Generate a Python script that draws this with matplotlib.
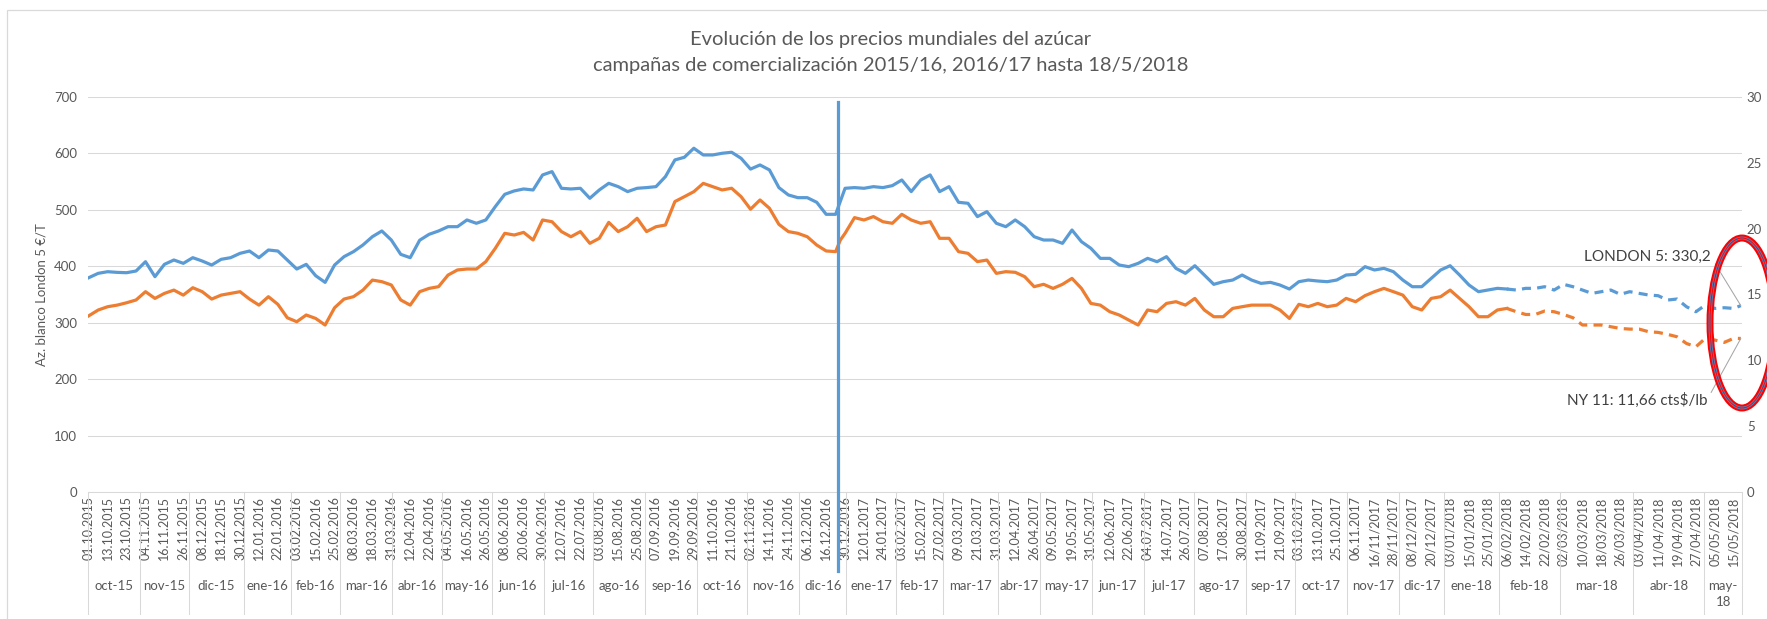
import matplotlib
matplotlib.use("Agg")
import matplotlib.pyplot as plt
import matplotlib.transforms as mtransforms
from matplotlib.patches import Ellipse, Rectangle

plt.rcParams['font.family'] = ['Lato', 'DejaVu Sans']
plt.rcParams['lines.scale_dashes'] = False

# ---------------- data ----------------
title_line1 = "Evolución de los precios mundiales del azúcar"
title_line2 = "campañas de comercialización 2015/16, 2016/17 hasta 18/5/2018"
y_label = "Az. blanco London 5 €/T"

n_categories = 700          # one category per quoted day (calendar days from 06/02/2018)
label_step = 8
date_labels = [
    "01.10.2015", "13.10.2015", "23.10.2015", "04.11.2015", "16.11.2015", "26.11.2015",
    "08.12.2015", "18.12.2015", "30.12.2015",
    "12.01.2016", "22.01.2016", "03.02.2016", "15.02.2016", "25.02.2016", "08.03.2016",
    "18.03.2016", "31.03.2016", "12.04.2016", "22.04.2016", "04.05.2016", "16.05.2016",
    "26.05.2016", "08.06.2016", "20.06.2016", "30.06.2016", "12.07.2016", "22.07.2016",
    "03.08.2016", "15.08.2016", "25.08.2016", "07.09.2016", "19.09.2016", "29.09.2016",
    "11.10.2016", "21.10.2016", "02.11.2016", "14.11.2016", "24.11.2016", "06.12.2016",
    "16.12.2016", "30.12.2016",
    "12.01.2017", "24.01.2017", "03.02.2017", "15.02.2017", "27.02.2017", "09.03.2017",
    "21.03.2017", "31.03.2017", "12.04.2017", "26.04.2017", "09.05.2017", "19.05.2017",
    "31.05.2017", "12.06.2017", "22.06.2017", "04.07.2017", "14.07.2017", "26.07.2017",
    "07.08.2017", "17.08.2017", "30.08.2017", "11.09.2017", "21.09.2017", "03.10.2017",
    "13.10.2017", "25.10.2017", "06.11.2017", "16/11/2017", "28/11/2017", "08/12/2017",
    "20/12/2017",
    "03/01/2018", "15/01/2018", "25/01/2018", "06/02/2018", "14/02/2018", "22/02/2018",
    "02/03/2018", "10/03/2018", "18/03/2018", "26/03/2018", "03/04/2018", "11/04/2018",
    "19/04/2018", "27/04/2018", "05/05/2018", "15/05/2018",
]
month_labels = [
    "oct-15", "nov-15", "dic-15",
    "ene-16", "feb-16", "mar-16", "abr-16", "may-16", "jun-16", "jul-16", "ago-16",
    "sep-16", "oct-16", "nov-16", "dic-16",
    "ene-17", "feb-17", "mar-17", "abr-17", "may-17", "jun-17", "jul-17", "ago-17",
    "sep-17", "oct-17", "nov-17", "dic-17",
    "ene-18", "feb-18", "mar-18", "abr-18", "may-\n18",
]
month_starts = [0, 22, 43, 66, 86, 107, 129, 150, 171, 193, 214, 236, 258, 279, 301,
                321, 342, 362, 385, 403, 425, 447, 468, 490, 511, 533, 555,
                574, 597, 623, 654, 684, 700]

# category index of each read sample
sample_idx = list(range(0, 320, 4)) + [318] + list(range(320, 700, 4)) + [699]

# London 5 white sugar, EUR/t (left axis)
london5 = [
    379.7, 387.4, 390.3, 389.1, 388.5, 391.5, 408.0, 381.5, 403.3, 411.0,
    405.1, 415.1, 409.2, 402.1, 412.2, 415.1, 422.8, 426.9, 415.1, 428.7,
    426.9, 411.0, 395.0, 403.3, 383.2, 371.4, 402.1, 416.9, 425.8, 437.6,
    452.3, 462.4, 446.4, 421.0, 415.1, 446.0,
    456.5, 462.4, 470.0, 470.0, 481.9, 476.0, 481.9, 505.5, 527.3, 533.3,
    536.8, 535.0, 561.6, 567.5, 538.0, 536.8, 538.0, 520.3, 535.0, 546.8,
    540.9, 532.1, 538.0, 539.2, 540.9, 558.7, 588.2, 592.9, 608.9, 597.0,
    597.0, 600.0, 601.8, 591.1, 572.0, 579.3, 570.5, 539.2, 526.2, 521.4,
    521.4, 513.2, 491.9, 491.9,
    515.0,
    538.0, 539.2, 538.0, 540.9, 539.2, 542.7, 552.7, 532.1, 552.7, 561.6,
    532.1, 540.9, 513.2, 511.4, 487.8, 496.6, 476.0, 470.0, 481.9, 470.0,
    452.3, 446.4, 446.4, 440.5, 464.1, 443.5,
    431.7, 413.9, 413.9, 402.1, 399.2, 405.1, 413.9, 408.0, 416.9, 396.2,
    387.4, 400.9, 384.4, 367.9, 372.6, 375.5, 384.4, 375.5, 369.6, 371.4,
    366.7, 359.6, 372.6, 375.5, 373.8, 372.6, 375.5, 384.4, 385.6, 399.2,
    393.3, 396.2, 390.3, 375.5, 363.7, 363.7,
    378.5, 393.3, 400.9, 384.4, 366.7, 354.9, 357.8, 360.8, 359.6, 357.8,
    360.8, 360.8, 363.7, 357.8, 367.9, 363.7, 357.8, 351.9, 354.9, 357.8,
    350.2, 354.9, 351.9, 349.0, 347.8, 340.1, 341.9, 328.3, 319.4, 331.2,
    325.3, 326.5, 325.3,
    330.2,
]

# NY 11 raw sugar, cts$/lb (right axis)
ny11 = [
    13.38, 13.82, 14.07, 14.19, 14.37, 14.58, 15.21, 14.70, 15.08, 15.33,
    14.95, 15.51, 15.21, 14.65, 14.95, 15.08, 15.21, 14.65, 14.19, 14.83,
    14.25, 13.23, 12.93, 13.44, 13.18, 12.68, 13.99, 14.65, 14.83, 15.33,
    16.09, 15.97, 15.72, 14.58, 14.19, 15.21,
    15.46, 15.59, 16.47, 16.86, 16.93, 16.93, 17.49, 18.50, 19.64, 19.51,
    19.71, 19.13, 20.65, 20.52, 19.77, 19.38, 19.77, 18.88, 19.26, 20.47,
    19.77, 20.14, 20.78, 19.77, 20.14, 20.27, 22.05, 22.42, 22.80, 23.43,
    23.18, 22.93, 23.06, 22.42, 21.47, 22.17, 21.54, 20.32, 19.77, 19.64,
    19.38, 18.75, 18.30, 18.25,
    19.13,
    19.64, 20.83, 20.65, 20.91, 20.52, 20.40, 21.08, 20.65, 20.40, 20.52,
    19.26, 19.26, 18.25, 18.12, 17.49, 17.61, 16.60, 16.73, 16.68, 16.35,
    15.59, 15.77, 15.46, 15.77, 16.22, 15.46,
    14.32, 14.19, 13.69, 13.44, 13.06, 12.68, 13.82, 13.69, 14.32, 14.45,
    14.19, 14.70, 13.82, 13.31, 13.31, 13.94, 14.07, 14.19, 14.19, 14.19,
    13.82, 13.18, 14.25, 14.07, 14.32, 14.07, 14.19, 14.70, 14.45, 14.91,
    15.21, 15.46, 15.21, 14.95, 14.07, 13.82,
    14.70, 14.83, 15.33, 14.70, 14.07, 13.31, 13.31, 13.82, 13.94, 13.69,
    13.48, 13.48, 13.74, 13.69, 13.48, 13.23, 12.68, 12.68, 12.68, 12.55,
    12.42, 12.37, 12.37, 12.17, 12.12, 11.97, 11.79, 11.28, 11.03, 11.67,
    11.54, 11.36, 11.67,
    11.66,
]

calendar_from = 600          # from 06/02/2018 the series has weekend gaps (dashed look)
spike_idx = 317
spike_values = [690, -140]

london_label = "LONDON 5: 330,2"
ny_label = "NY 11: 11,66 cts$/lb"

# ---------------- style ----------------
BLUE = "#5B9BD5"
ORANGE = "#ED7D31"
GRID = "#D9D9D9"
TXT = "#595959"
LW = 2.3

W, H = 1767, 619
fig = plt.figure(figsize=(W / 100, H / 100), dpi=100)
L, R, T, B = 87.6, 1742.0, 96.8, 492.1
ax = fig.add_axes([L / W, (H - B) / H, (R - L) / W, (B - T) / H])
ax2 = ax.twinx()

ax.set_xlim(-0.5, n_categories - 0.5)
ax.set_ylim(0, 700)
ax2.set_ylim(0, 30)

for a in (ax, ax2):
    for s in a.spines.values():
        s.set_visible(False)
ax.spines['bottom'].set_visible(True)
ax.spines['bottom'].set_color(GRID)
ax.spines['bottom'].set_linewidth(0.75)

ax.set_yticks(range(0, 701, 100))
ax.tick_params(axis='y', length=0, pad=7.5, labelsize=9.5, labelcolor=TXT)
ax2.set_yticks(range(0, 31, 5))
ax2.tick_params(axis='y', length=0, pad=3.5, labelsize=9.5, labelcolor=TXT)
ax.grid(axis='y', color=GRID, lw=0.75)
ax.set_axisbelow(True)

ax.set_xticks(range(0, n_categories, label_step))
ax.set_xticklabels(date_labels, rotation=90, fontsize=9, color=TXT)
ax.tick_params(axis='x', length=0, pad=3)

# split into solid part and calendar-day (dashed) part
k = sample_idx.index(calendar_from)
x_solid, x_dash = sample_idx[:k + 1], sample_idx[k:]

ax.plot(x_solid, ny11[:k + 1], color=ORANGE, lw=LW, transform=ax2.transData,
        solid_joinstyle='round', zorder=3)
ax.plot(x_dash, ny11[k:], color=ORANGE, lw=LW, transform=ax2.transData,
        dashes=(6.5, 4.5), zorder=3)
ax.plot(x_solid, london5[:k + 1], color=BLUE, lw=LW, solid_joinstyle='round', zorder=4)
ax.plot(x_dash, london5[k:], color=BLUE, lw=LW, dashes=(6.5, 4.5), zorder=4)
ax.plot([spike_idx, spike_idx], spike_values, color=BLUE, lw=LW, clip_on=False, zorder=4)

# month separators and labels (second level of category axis)
trans = mtransforms.blended_transform_factory(ax.transData, ax.transAxes)
sep_bottom = -(614 - B) / (B - T)
for b in month_starts:
    ax.plot([b - 0.5, b - 0.5], [0, sep_bottom], transform=trans, clip_on=False,
            color=GRID, lw=0.75)
lab_y = -(580 - B) / (B - T)
for name, s, e in zip(month_labels, month_starts[:-1], month_starts[1:]):
    ax.text((s + e - 1) / 2, lab_y, name, transform=trans, ha='center', va='top',
            fontsize=9.5, color=TXT, linespacing=1.45)

# titles and axis label
fig.text(0.504, 1 - 39 / H, title_line1, ha='center', va='center', fontsize=14.5, color=TXT)
fig.text(0.504, 1 - 65 / H, title_line2, ha='center', va='center', fontsize=14.5, color=TXT)
fig.text(42 / W, 1 - 294.5 / H, y_label, rotation=90, ha='center', va='center',
         fontsize=9.5, color=TXT)

# data labels for the last values
ax.annotate(london_label, xy=(sample_idx[-1], london5[-1]), xycoords='data',
            xytext=((1711 - L) / (R - L), (B - 257) / (B - T)), textcoords='axes fraction',
            ha='right', va='center', fontsize=11, color='#404040', annotation_clip=False,
            arrowprops=dict(arrowstyle='-', color='#A6A6A6', lw=0.75, shrinkA=2, shrinkB=0,
                            relpos=(1, 0.5)), zorder=6)
ax.annotate(ny_label, xy=(sample_idx[-1], ny11[-1]), xycoords=ax2.transData,
            xytext=((1707 - L) / (R - L), (B - 400) / (B - T)), textcoords='axes fraction',
            ha='right', va='center', fontsize=11, color='#404040', annotation_clip=False,
            arrowprops=dict(arrowstyle='-', color='#A6A6A6', lw=0.75, shrinkA=2, shrinkB=0,
                            relpos=(1, 0.5)), zorder=6)

# red highlight ellipse
cx, cy = (1742 - L) / (R - L), (B - 323) / (B - T)
ew, eh = 64 / (R - L), 170 / (B - T)
ax2.add_patch(Ellipse((cx, cy), ew, eh, transform=ax2.transAxes, fill=False,
                      ec='#FF0000', lw=5, clip_on=False, zorder=10))
for d in (-2.0, 2.0):
    ax2.add_patch(Ellipse((cx, cy), ew + d / (R - L), eh + d / (B - T),
                          transform=ax2.transAxes, fill=False, ec='#4F81BD', lw=0.7,
                          clip_on=False, zorder=11))

# outer chart-area border
fig.add_artist(Rectangle((7 / W, -0.05), 1.2, (H - 10) / H + 0.05, transform=fig.transFigure,
                         fill=False, ec=GRID, lw=0.9))

fig.savefig("out.png", dpi=100)
